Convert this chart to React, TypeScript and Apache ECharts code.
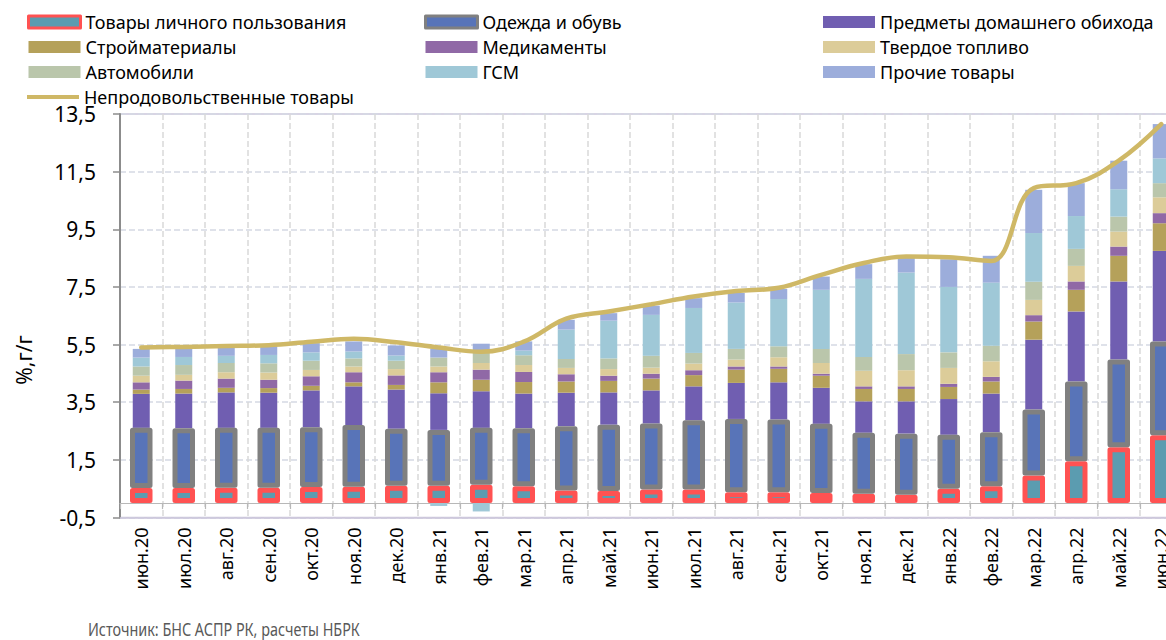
import React, { useEffect, useRef } from 'react';
import * as echarts from 'echarts';

const categories = ['июн.20','июл.20','авг.20','сен.20','окт.20','ноя.20','дек.20','янв.21','фев.21','мар.21','апр.21','май.21','июн.21','июл.21','авг.21','сен.21','окт.21','ноя.21','дек.21','янв.22','фев.22','мар.22','апр.22','май.22','июн.22'];

const personal = [0.52,0.52,0.53,0.53,0.56,0.57,0.60,0.60,0.64,0.58,0.44,0.42,0.47,0.47,0.38,0.38,0.35,0.32,0.29,0.50,0.58,0.96,1.45,1.94,2.35];
const clothing = [2.09,2.08,2.08,2.08,2.07,2.14,1.98,1.94,1.97,2.02,2.23,2.30,2.29,2.40,2.54,2.52,2.40,2.12,2.12,1.87,1.88,2.29,2.77,3.04,3.26];
const household = [1.18,1.20,1.23,1.22,1.28,1.34,1.36,1.27,1.27,1.20,1.16,1.12,1.15,1.18,1.25,1.29,1.25,1.09,1.12,1.24,1.34,2.42,2.43,2.71,3.14];
const construction = [0.15,0.16,0.16,0.16,0.16,0.14,0.16,0.38,0.40,0.40,0.39,0.40,0.41,0.39,0.46,0.47,0.42,0.43,0.43,0.42,0.42,0.63,0.75,0.89,0.96];
const medicines = [0.25,0.29,0.32,0.29,0.33,0.35,0.33,0.35,0.35,0.35,0.25,0.18,0.17,0.17,0.11,0.08,0.07,0.09,0.09,0.11,0.16,0.22,0.29,0.32,0.35];
const solidFuel = [0.23,0.20,0.22,0.25,0.22,0.20,0.22,0.20,0.23,0.24,0.22,0.23,0.21,0.23,0.24,0.32,0.37,0.54,0.56,0.55,0.54,0.53,0.54,0.52,0.55];
const cars = [0.32,0.34,0.32,0.32,0.32,0.28,0.29,0.31,0.35,0.34,0.31,0.37,0.41,0.37,0.37,0.38,0.49,0.48,0.56,0.54,0.54,0.63,0.59,0.52,0.49];
const fuel = [0.31,0.28,0.25,0.29,0.29,0.24,0.18,-0.10,-0.29,0.16,1.02,1.31,1.42,1.56,1.61,1.64,2.05,2.71,2.83,2.27,2.19,1.69,1.14,0.95,0.86];
const other = [0.30,0.29,0.29,0.30,0.32,0.35,0.35,0.31,0.32,0.32,0.34,0.26,0.32,0.34,0.33,0.35,0.46,0.51,0.58,0.96,0.93,1.50,1.14,0.99,1.19];
const total = [5.40,5.42,5.45,5.48,5.60,5.70,5.58,5.40,5.25,5.60,6.40,6.65,6.90,7.17,7.36,7.47,7.92,8.33,8.56,8.53,8.40,10.93,11.10,11.88,13.15];

const FONT = "'Noto Sans', 'Open Sans', sans-serif";

const barDefs = [
  { name: 'Товары личного пользования', data: personal, color: '#5B9CB0', border: '#FF5252' },
  { name: 'Одежда и обувь', data: clothing, color: '#5874B8', border: '#808080' },
  { name: 'Предметы домашнего обихода', data: household, color: '#705EB1' },
  { name: 'Стройматериалы', data: construction, color: '#B5A15A' },
  { name: 'Медикаменты', data: medicines, color: '#9069A6' },
  { name: 'Твердое топливо', data: solidFuel, color: '#DCCC99' },
  { name: 'Автомобили', data: cars, color: '#BAC6AB' },
  { name: 'ГСМ', data: fuel, color: '#9FC8D7' },
  { name: 'Прочие товары', data: other, color: '#9CADDB' },
];
const lineName = 'Непродовольственные товары';
const lineColor = '#CFB866';

function legendItem(i: number) {
  const d = barDefs[i];
  const it: any = { name: d.name, icon: 'rect', itemStyle: { color: d.color, borderWidth: 0 } };
  if (d.border) it.itemStyle = { color: d.color, borderColor: d.border, borderWidth: 3 };
  return it;
}

export default function App() {
  const ref = useRef<HTMLDivElement>(null);
  useEffect(() => {
    if (!ref.current) return;
    const chart = echarts.init(ref.current, undefined, { renderer: 'svg' });
    const legendCommon = {
      orient: 'vertical',
      itemWidth: 52,
      itemHeight: 12,
      itemGap: 7,
      padding: 0,
      selectedMode: false,
      textStyle: { fontSize: 18, lineHeight: 18, color: '#000', fontFamily: FONT },
    };
    const series: any[] = barDefs.map((d) => ({
      name: d.name,
      type: 'bar',
      stack: 'total',
      barWidth: d.border ? 22.5 : 17,
      xAxisIndex: d.border ? 1 : 0,
      z: d.border ? 3 : 2,
      data: d.data,
      itemStyle: d.border
        ? { color: d.color, borderColor: d.border, borderWidth: 5, borderJoin: 'round' }
        : { color: d.color },
    }));
    series.push({
      name: lineName,
      type: 'line',
      xAxisIndex: 0,
      data: total,
      smooth: 0.4,
      symbol: 'none',
      z: 5,
      itemStyle: { color: lineColor },
      lineStyle: { color: lineColor, width: 4.5, cap: 'round' },
    });
    chart.setOption({
      animation: false,
      backgroundColor: '#fff',
      legend: [
        { ...legendCommon, left: 27, top: 13, data: [legendItem(0), legendItem(3), legendItem(6)] },
        { ...legendCommon, left: 424, top: 13, data: [legendItem(1), legendItem(4), legendItem(7)] },
        { ...legendCommon, left: 823, top: 13, data: [legendItem(2), legendItem(5), legendItem(8)] },
        {
          ...legendCommon,
          left: 27,
          top: 88,
          itemHeight: 4,
          data: [{ name: lineName, icon: 'rect', itemStyle: { color: lineColor } }],
        },
      ],
      grid: {
        left: 120,
        right: 17.5,
        top: 114,
        bottom: 122.5,
        show: true,
        borderColor: '#CCC6DB',
        borderWidth: 1.5,
        outerBoundsMode: 'none',
      },
      xAxis: [
        {
          type: 'category',
          data: categories,
          position: 'bottom',
          axisLine: { onZero: false, lineStyle: { color: '#CCC6DB', width: 1.5 } },
          axisTick: { show: false },
          axisLabel: { rotate: 90, margin: 10, fontSize: 18, color: '#000', fontFamily: FONT, interval: 0 },
          splitLine: { show: true, interval: 0, lineStyle: { type: 'dashed', color: '#D9D9D9', width: 1.5 } },
        },
        {
          type: 'category',
          data: categories,
          position: 'bottom',
          axisLine: { onZero: true, lineStyle: { color: '#B8B8B8', width: 1.2 } },
          axisTick: { show: true, length: 6, interval: 0, lineStyle: { color: '#B8B8B8', width: 1.2 } },
          axisLabel: { show: false },
          splitLine: { show: false },
        },
      ],
      yAxis: {
        type: 'value',
        min: -0.5,
        max: 13.5,
        interval: 2,
        axisLine: { show: true, lineStyle: { color: '#8C8C8C', width: 2 } },
        axisTick: { show: true, length: 7, lineStyle: { color: '#8C8C8C', width: 1.5 } },
        axisLabel: {
          fontSize: 21,
          margin: 24,
          color: '#000',
          fontFamily: FONT,
          formatter: (v: number) => v.toFixed(1).replace('.', ','),
        },
        splitLine: { show: true, lineStyle: { type: 'dashed', color: '#D5D9E3', width: 1.5 } },
      },
      graphic: [
        {
          type: 'text',
          x: 24,
          y: 360,
          rotation: Math.PI / 2,
          style: { text: '%,г/г', fontSize: 21, fill: '#000', fontFamily: FONT, align: 'center', verticalAlign: 'middle' },
        },
        {
          type: 'text',
          x: 88,
          y: 629,
          scaleX: 0.8,
          style: {
            text: 'Источник: БНС АСПР РК, расчеты НБРК',
            fontSize: 18,
            fill: '#595959',
            fontFamily: FONT,
            align: 'left',
            verticalAlign: 'middle',
          },
        },
      ],
      series,
    });
    return () => chart.dispose();
  }, []);
  return (
    <div style={{ position: 'fixed', left: 0, top: 0, width: 1166, height: 640, overflow: 'hidden', background: '#fff' }}>
      <div ref={ref} style={{ width: 1200, height: 640 }} />
    </div>
  );
}
